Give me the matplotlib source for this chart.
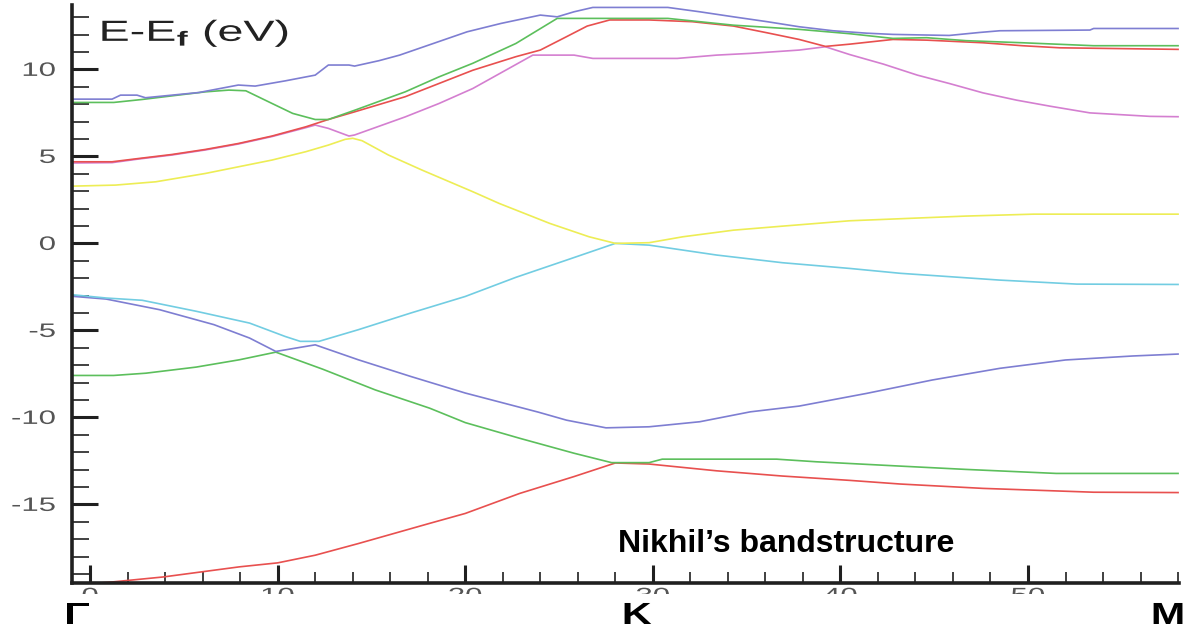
import matplotlib
matplotlib.use("Agg")
import matplotlib.pyplot as plt
from matplotlib.patches import Rectangle
from matplotlib.ticker import MultipleLocator
from matplotlib.patheffects import AbstractPathEffect
from matplotlib.transforms import Affine2D

plt.rcParams['font.family'] = ['Liberation Sans', 'DejaVu Sans']
plt.rcParams['axes.unicode_minus'] = False
plt.rcParams['mathtext.fontset'] = 'custom'
plt.rcParams['mathtext.rm'] = 'Liberation Sans'
plt.rcParams['mathtext.bf'] = 'Liberation Sans:bold'

# band energies (eV) along Gamma -> K -> M
band1_x = [-0.95, 1.25, 3.9, 7.95, 10.0, 12.0, 14.3, 18.1, 20.0, 22.9, 25.8, 28.0,
           29.8, 33.4, 36.9, 40.5, 43.2, 47.6, 53.5, 58.0]
band1_y = [-19.65, -19.45, -19.17, -18.59, -18.36, -17.92, -17.25, -16.09, -15.52, -14.37,
           -13.4, -12.62, -12.68, -13.07, -13.37, -13.62, -13.83, -14.08, -14.3, -14.32]

band2_x = [-0.95, 1.25, 2.97, 5.65, 7.95, 9.9, 12.4, 15.2, 18.1, 20.0, 22.9, 25.8, 27.8,
           29.8, 30.5, 36.6, 38.7, 40.5, 43.2, 46.7, 51.5, 58.0]
band2_y = [-7.59, -7.59, -7.46, -7.11, -6.69, -6.25, -7.23, -8.42, -9.47, -10.3, -11.2,
           -12.06, -12.6, -12.6, -12.4, -12.4, -12.55, -12.65, -12.8, -12.99, -13.22, -13.22]

band3_x = [-0.95, 0.86, 3.7, 6.6, 8.5, 9.9, 12.0, 14.3, 17.1, 20.0, 23.9, 25.4, 27.5,
           29.8, 32.5, 35.2, 37.8, 41.4, 44.9, 48.5, 52.0, 55.6, 58.0]
band3_y = [-3.04, -3.2, -3.81, -4.67, -5.44, -6.21, -5.83, -6.69, -7.65, -8.6, -9.7,
           -10.16, -10.6, -10.54, -10.25, -9.68, -9.35, -8.62, -7.85, -7.18, -6.7, -6.47, -6.36]

band4_x = [-0.95, 0.86, 2.78, 5.65, 8.5, 10.4, 11.2, 12.2, 14.3, 17.1, 20.0, 22.7, 25.4,
           28.0, 29.8, 33.4, 36.9, 40.5, 43.2, 48.5, 52.6, 58.0]
band4_y = [-2.95, -3.14, -3.27, -3.9, -4.58, -5.35, -5.63, -5.63, -4.96, -4.0, -3.05,
           -1.95, -0.96, 0.0, -0.1, -0.67, -1.11, -1.44, -1.72, -2.11, -2.34, -2.36]

band5_x = [-0.95, 1.35, 3.5, 6.15, 7.9, 9.7, 11.5, 12.7, 13.6, 14.0, 14.5, 15.9, 17.7,
           20.4, 21.8, 24.5, 26.6, 28.0, 29.8, 31.6, 34.3, 36.9, 40.5, 46.7, 50.3, 58.0]
band5_y = [3.29, 3.35, 3.54, 4.02, 4.4, 4.79, 5.27, 5.65, 5.98, 6.04, 5.9, 5.08, 4.21,
           2.97, 2.3, 1.15, 0.38, 0.0, 0.04, 0.38, 0.76, 0.99, 1.3, 1.57, 1.68, 1.68]

band6_x = [-0.95, 1.17, 2.6, 4.37, 6.15, 7.9, 9.7, 11.5, 12.0, 12.7, 13.8, 14.1, 16.8,
           18.6, 20.4, 23.6, 25.8, 26.8, 31.3, 33.4, 35.2, 37.8, 39.2, 40.5, 42.3, 44.1,
           45.8, 47.6, 49.4, 51.2, 53.3, 56.5, 58.0]
band6_y = [4.62, 4.64, 4.85, 5.08, 5.37, 5.71, 6.14, 6.65, 6.8, 6.61, 6.17, 6.23, 7.27,
           8.04, 8.9, 10.82, 10.82, 10.63, 10.63, 10.82, 10.92, 11.11, 11.3, 10.85, 10.3,
           9.67, 9.19, 8.65, 8.23, 7.88, 7.5, 7.3, 7.28]

band7_x = [-0.95, 1.17, 2.6, 4.37, 6.15, 7.9, 9.7, 11.5, 12.7, 14.1, 16.8, 18.6, 20.4,
           22.7, 24.0, 25.4, 26.5, 27.7, 29.8, 32.1, 34.3, 36.1, 37.8, 39.2, 40.5, 42.8,
           44.6, 47.6, 49.7, 51.7, 58.0]
band7_y = [4.69, 4.69, 4.88, 5.11, 5.4, 5.74, 6.17, 6.7, 7.12, 7.56, 8.43, 9.19, 9.95,
           10.73, 11.11, 11.88, 12.49, 12.84, 12.84, 12.74, 12.49, 12.1, 11.72, 11.32,
           11.45, 11.72, 11.68, 11.53, 11.36, 11.24, 11.15]

band8_x = [-0.95, 1.26, 2.77, 4.37, 6.15, 7.4, 8.3, 9.7, 10.8, 12.0, 12.7, 14.1, 16.8,
           18.6, 20.4, 22.7, 24.9, 30.8, 32.5, 34.3, 37.8, 40.5, 42.8, 44.6, 46.7, 49.7,
           53.5, 58.0]
band8_y = [8.1, 8.1, 8.27, 8.48, 8.71, 8.81, 8.77, 8.04, 7.47, 7.12, 7.12, 7.65, 8.71,
           9.57, 10.35, 11.49, 12.93, 12.93, 12.74, 12.54, 12.3, 12.05, 11.78, 11.82,
           11.65, 11.53, 11.36, 11.36]

band9_x = [-0.95, 1.17, 1.62, 2.5, 2.95, 4.37, 5.8, 7.9, 8.8, 10.4, 12.0, 12.7, 13.8,
           14.1, 15.4, 16.5, 18.3, 20.1, 21.9, 24.0, 24.9, 25.8, 26.8, 30.8, 32.5, 34.3,
           36.1, 37.8, 39.6, 41.4, 42.8, 45.8, 47.4, 48.5, 53.3, 53.5, 58.0]
band9_y = [8.29, 8.29, 8.52, 8.52, 8.37, 8.52, 8.67, 9.1, 9.04, 9.34, 9.67, 10.25, 10.25,
           10.19, 10.5, 10.82, 11.49, 12.16, 12.64, 13.12, 13.02, 13.31, 13.56, 13.56,
           13.31, 13.02, 12.74, 12.45, 12.22, 12.08, 12.01, 11.95, 12.12, 12.22, 12.26,
           12.35, 12.35]

# tecplot-like colour cycle: red, green, blue, cyan, yellow, purple
red, green, blue = '#e8504f', '#5cbf5c', '#7e7ed2'
cyan, yellow, purple = '#72cde2', '#eded55', '#d47fd0'
bands = [(band1_x, band1_y, red), (band2_x, band2_y, green), (band3_x, band3_y, blue),
         (band4_x, band4_y, cyan), (band5_x, band5_y, yellow), (band6_x, band6_y, purple),
         (band7_x, band7_y, red), (band8_x, band8_y, green), (band9_x, band9_y, blue)]

point_labels = ['\u0393', 'K', 'M']
point_px = [77, 637, 1168]


class StretchX(AbstractPathEffect):
    # the original picture was stretched sideways, so its texts are wide
    def __init__(self, sx, anchor='left'):
        super().__init__()
        self.sx = sx
        self.anchor = anchor

    def draw_path(self, renderer, gc, tpath, affine, rgbFace=None):
        ext = tpath.get_extents(affine)
        if self.anchor == 'left':
            x0 = ext.x0
        elif self.anchor == 'right':
            x0 = ext.x1
        else:
            x0 = 0.5 * (ext.x0 + ext.x1)
        t = affine + Affine2D().translate(-x0, 0).scale(self.sx, 1).translate(x0, 0)
        renderer.draw_path(gc, tpath, t, rgbFace)


fig = plt.figure(figsize=(11.96, 6.34), dpi=100)
ax = fig.add_axes([72.3 / 1196, 51.3 / 634, 1106.7 / 1196, 577.7 / 634])

for bx, by, c in bands:
    ax.plot(bx, by, color=c, lw=1.2, solid_joinstyle='round')

ax.set_xlim(-0.95, 58.05)
ax.set_ylim(-19.5, 13.7)

for s in ['top', 'right']:
    ax.spines[s].set_visible(False)
for s in ['left', 'bottom']:
    ax.spines[s].set_linewidth(2.6)
    ax.spines[s].set_color('#202020')

ax.xaxis.set_major_locator(MultipleLocator(10))
ax.xaxis.set_minor_locator(MultipleLocator(2))
ax.yaxis.set_major_locator(MultipleLocator(5))
ax.yaxis.set_minor_locator(MultipleLocator(1))
ax.tick_params(axis='y', which='major', direction='in', length=19, width=2.2,
               color='#202020', pad=12, labelsize=14, labelcolor='#555555')
ax.tick_params(axis='y', which='minor', direction='in', length=12, width=1.4,
               color='#404040')
ax.tick_params(axis='x', which='major', direction='in', length=13, width=2.2,
               color='#202020', pad=4, labelsize=14, labelcolor='#555555')
ax.tick_params(axis='x', which='minor', direction='in', length=8, width=1.4,
               color='#404040')
for t in ax.get_yticklabels():
    t.set_path_effects([StretchX(1.6, 'right')])
for t in ax.get_xticklabels():
    t.set_path_effects([StretchX(1.6, 'center')])

fig.text(100 / 1196, (634 - 41) / 634, r'E-E$_\mathbf{f}$ (eV)', fontsize=21,
         color='#222222', va='baseline', ha='left',
         path_effects=[StretchX(1.6, 'left')])
fig.text(618 / 1196, (634 - 552) / 634, 'Nikhil\u2019s bandstructure', fontsize=23,
         fontweight='bold', va='baseline', ha='left')

# the x tick numbers are cut off in the original: hide their lower part
fig.patches.append(Rectangle((0, 0), 1, 40 / 634, transform=fig.transFigure,
                             facecolor='white', edgecolor='none', zorder=5))
for lab, px in zip(point_labels, point_px):
    fig.text(px / 1196, 10 / 634, lab, fontsize=22, fontweight='bold',
             ha='center', va='baseline', zorder=6,
             path_effects=[StretchX(1.35, 'center')])

fig.savefig('out.png', dpi=100)
